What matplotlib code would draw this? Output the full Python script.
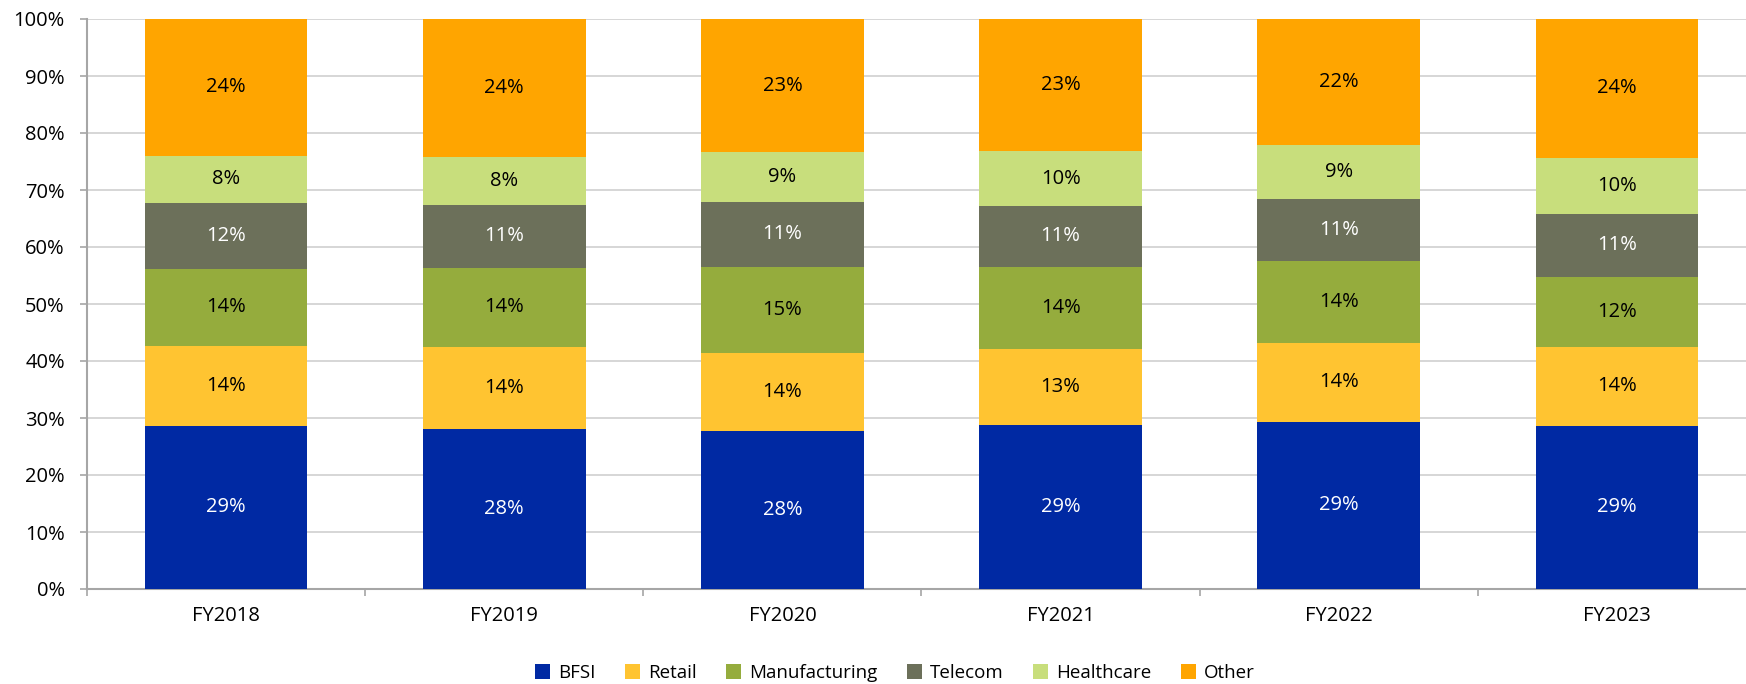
import matplotlib
matplotlib.use("Agg")
import matplotlib.pyplot as plt
import numpy as np

years = ["FY2018", "FY2019", "FY2020", "FY2021", "FY2022", "FY2023"]
segments = ["BFSI", "Retail", "Manufacturing", "Telecom", "Healthcare", "Other"]
bfsi = [28.6, 28.1, 27.7, 28.7, 29.3, 28.6]
retail = [14.0, 14.4, 13.7, 13.4, 13.9, 13.9]
manufacturing = [13.6, 13.8, 15.1, 14.4, 14.4, 12.3]
telecom = [11.6, 11.1, 11.4, 10.7, 10.9, 11.0]
healthcare = [8.2, 8.4, 8.7, 9.6, 9.4, 9.9]
other = [24.0, 24.2, 23.4, 23.2, 22.1, 24.3]
yticks = [0, 10, 20, 30, 40, 50, 60, 70, 80, 90, 100]

series = [bfsi, retail, manufacturing, telecom, healthcare, other]
colors = ["#0029A3", "#FFC431", "#95AC3D", "#6C705A", "#C8DE7C", "#FFA500"]
text_colors = ["white", "black", "black", "white", "black", "black"]

plt.rcParams['font.family'] = ['Open Sans', 'DejaVu Sans']

fig = plt.figure(figsize=(17.46, 6.84), dpi=100)
ax = fig.add_axes([87/1746, 1-589/684, (1756-87)/1746, (589-19)/684])

x = np.arange(len(years))
bottom = np.zeros(len(years))
handles = []
for vals, c, tc, name in zip(series, colors, text_colors, segments):
    v = np.array(vals)
    b = ax.bar(x, v, width=0.585, bottom=bottom, color=c, label=name, zorder=3)
    handles.append(b)
    for xi, vi, bi in zip(x, v, bottom):
        ax.text(xi, bi + vi/2, f"{vi:.0f}%", ha="center", va="center",
                color=tc, fontsize=14.5, zorder=4)
    bottom += v

ax.set_xlim(-0.5, len(years) - 0.5)
ax.set_ylim(0, 100)
ax.set_yticks(yticks)
ax.set_yticklabels([f"{t}%" for t in yticks], fontsize=14.5)
ax.set_xticks(x)
ax.set_xticklabels(years, fontsize=14.5)
ax.tick_params(axis='x', length=0, pad=12)
ax.set_xticks(np.arange(-0.5, len(years), 1.0), minor=True)
ax.tick_params(axis='x', which='minor', length=5, color="#A6A6A6", width=1.2)
ax.tick_params(axis='y', length=5, color="#A6A6A6", width=1.2, pad=11)
ax.grid(axis='y', color="#D0D0D0", linewidth=1.2, zorder=0)
for s in ["top", "right"]:
    ax.spines[s].set_visible(False)
for s in ["left", "bottom"]:
    ax.spines[s].set_color("#A6A6A6")
    ax.spines[s].set_linewidth(1.5)
ax.set_axisbelow(True)

fig.legend(handles=handles, labels=segments, loc="center", ncol=6,
           bbox_to_anchor=(895/1746, 1-673/684), frameon=False,
           handlelength=0.8, handleheight=0.8, handletextpad=0.4,
           columnspacing=1.6, fontsize=13.5)

fig.savefig("out.png", dpi=100)
